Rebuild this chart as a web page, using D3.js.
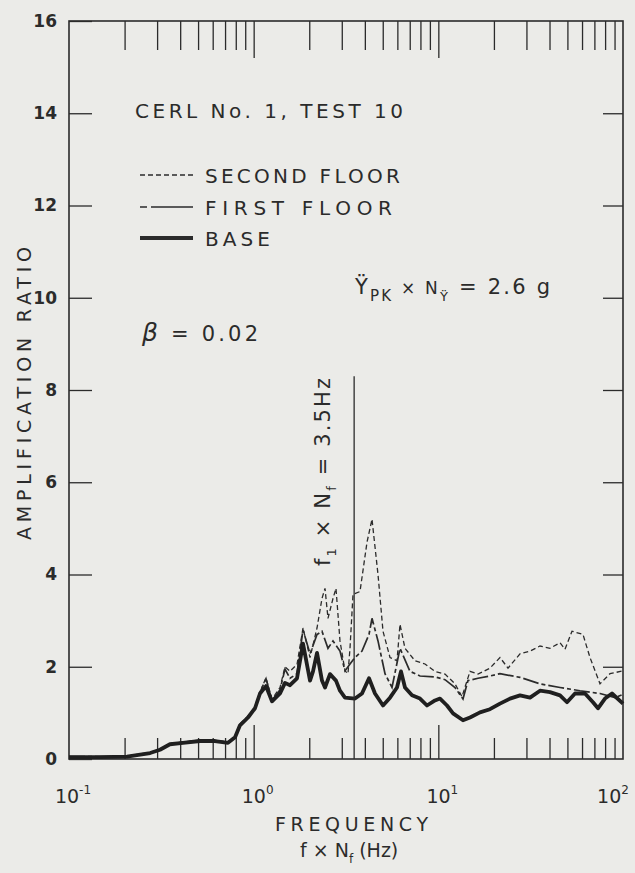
<!DOCTYPE html>
<html>
<head>
<meta charset="utf-8">
<script src="https://cdn.jsdelivr.net/npm/d3@7"></script>
<style>
  body { margin: 0; background: #ebebe8; }
  svg { display: block; }
  text { font-family: "DejaVu Sans", sans-serif; fill: #2b2b2b; }
</style>
</head>
<body>
<div id="chart"></div>
<script>
// axis ticks
const yTicks = [0, 2, 4, 6, 8, 10, 12, 14, 16];
const xDecades = [0.1, 1, 10, 100];
const xDecadeExp = ["-1", "0", "1", "2"];

// [frequency Hz, amplification ratio]
const baseData = [
  [0.1, 0.04], [0.147, 0.04], [0.206, 0.05], [0.275, 0.13], [0.311, 0.2], [0.352, 0.32],
  [0.414, 0.35], [0.512, 0.39], [0.617, 0.39], [0.726, 0.35], [0.793, 0.47], [0.843, 0.73],
  [0.932, 0.9], [1.017, 1.1], [1.082, 1.42], [1.166, 1.58], [1.257, 1.25], [1.389, 1.42],
  [1.478, 1.65], [1.573, 1.6], [1.717, 1.75], [1.85, 2.5], [2.019, 1.7], [2.096, 1.9],
  [2.203, 2.3], [2.344, 1.7], [2.434, 1.55], [2.59, 1.84], [2.791, 1.7], [2.934, 1.48],
  [3.123, 1.33], [3.538, 1.31], [3.86, 1.42], [4.213, 1.75], [4.539, 1.42], [5.016, 1.16],
  [5.474, 1.33], [5.973, 1.55], [6.278, 1.9], [6.598, 1.55], [7.201, 1.38], [7.956, 1.31],
  [8.682, 1.16], [9.592, 1.27], [10.21, 1.31], [11.14, 1.16], [12.01, 0.99], [13.6, 0.84],
  [14.84, 0.9], [16.81, 1.01], [19.04, 1.08], [21.57, 1.2], [24.44, 1.31], [27.69, 1.38],
  [31.37, 1.33], [35.53, 1.48], [40.24, 1.45], [45.6, 1.38], [49.75, 1.23], [54.96, 1.42],
  [62.26, 1.42], [68.78, 1.23], [73.21, 1.1], [79.88, 1.31], [87.19, 1.42], [100, 1.2]
];

const firstFloorData = [
  [0.1, 0.05], [0.147, 0.05], [0.206, 0.06], [0.275, 0.14], [0.311, 0.21], [0.352, 0.33],
  [0.414, 0.36], [0.512, 0.4], [0.617, 0.4], [0.726, 0.36], [0.793, 0.48], [0.843, 0.75],
  [0.932, 0.92], [1.017, 1.12], [1.082, 1.45], [1.166, 1.74], [1.257, 1.27], [1.389, 1.5],
  [1.478, 1.95], [1.573, 1.75], [1.717, 1.85], [1.85, 2.8], [2.019, 2.28], [2.203, 2.7],
  [2.344, 2.77], [2.526, 2.4], [2.689, 2.56], [2.934, 2.34], [3.123, 1.91], [3.324, 2.06],
  [3.538, 2.2], [3.86, 2.34], [4.213, 2.7], [4.373, 3.05], [4.713, 2.56], [5.143, 1.85],
  [5.612, 1.55], [6.2, 2.4], [7.024, 1.9], [7.956, 1.8], [9.592, 1.78], [10.87, 1.72],
  [12.31, 1.55], [13.6, 1.3], [14.47, 1.7], [16.4, 1.75], [19.04, 1.8], [21.57, 1.85],
  [27.69, 1.77], [35.53, 1.63], [45.6, 1.55], [58.49, 1.48], [75.07, 1.42], [90.52, 1.33],
  [100, 1.4]
];

const secondFloorData = [
  [0.1, 0.05], [0.147, 0.05], [0.206, 0.06], [0.275, 0.14], [0.311, 0.21], [0.352, 0.33],
  [0.414, 0.37], [0.512, 0.41], [0.617, 0.41], [0.726, 0.37], [0.793, 0.49], [0.843, 0.76],
  [0.932, 0.93], [1.017, 1.12], [1.082, 1.45], [1.166, 1.76], [1.257, 1.3], [1.389, 1.55],
  [1.478, 2.0], [1.573, 1.9], [1.717, 2.05], [1.85, 2.84], [2.019, 2.2], [2.203, 2.84],
  [2.344, 3.48], [2.434, 3.7], [2.526, 3.05], [2.689, 3.48], [2.791, 3.7], [2.934, 2.56],
  [3.123, 1.91], [3.242, 1.85], [3.324, 2.4], [3.451, 3.57], [3.765, 3.63], [4.109, 4.7],
  [4.373, 5.2], [4.713, 4.0], [5.016, 2.77], [5.474, 2.2], [5.973, 2.13], [6.2, 2.92],
  [6.598, 2.4], [7.475, 2.13], [8.468, 2.06], [9.592, 1.9], [10.87, 1.84], [12.31, 1.63],
  [13.43, 1.35], [14.84, 1.9], [16.4, 1.84], [19.04, 1.97], [21.57, 2.2], [23.84, 1.97],
  [27.69, 2.28], [31.37, 2.34], [35.53, 2.45], [40.24, 2.4], [45.6, 2.52], [48.52, 2.38],
  [52.94, 2.77], [60.72, 2.7], [66.27, 2.2], [75.07, 1.63], [85.04, 1.85], [100, 1.91]
];

const fundamentalHz = 3.5;
const fundamentalTop = 8.3;

const ink = "#2b2b2b";
const width = 635, height = 873;
const plot = { left: 69, right: 623, top: 21, bottom: 759 };

const svg = d3.select("#chart").append("svg")
  .attr("width", width)
  .attr("height", height);

const x = d3.scaleLog().domain([0.1, 100]).range([plot.left, plot.right]);
const y = d3.scaleLinear().domain([0, 16]).range([plot.bottom, plot.top]);

// minor ticks 2..9 in each decade, majors at inner decades
const minorTicks = [];
xDecades.slice(0, -1).forEach(d => { for (let k = 2; k <= 9; k++) minorTicks.push(k * d); });
const majorTicks = xDecades.slice(1, -1);

function styleAxis(g) {
  g.select(".domain").remove();
  g.selectAll(".tick line").attr("stroke", ink).attr("stroke-width", 1.3);
}

// bottom ticks
svg.append("g").attr("transform", `translate(0,${plot.bottom})`)
  .call(d3.axisBottom(x).tickValues(minorTicks).tickSize(-21).tickFormat(""))
  .call(styleAxis);
svg.append("g").attr("transform", `translate(0,${plot.bottom})`)
  .call(d3.axisBottom(x).tickValues(majorTicks).tickSize(-34).tickFormat(""))
  .call(styleAxis);

// top ticks
svg.append("g").attr("transform", `translate(0,${plot.top})`)
  .call(d3.axisTop(x).tickValues(minorTicks).tickSize(-29).tickFormat(""))
  .call(styleAxis);
svg.append("g").attr("transform", `translate(0,${plot.top})`)
  .call(d3.axisTop(x).tickValues(majorTicks).tickSize(-37).tickFormat(""))
  .call(styleAxis);

// left axis with labels
const leftAxis = svg.append("g").attr("transform", `translate(${plot.left},0)`)
  .call(d3.axisLeft(y).tickValues(yTicks).tickSize(-23).tickPadding(12).tickFormat(d3.format("d")))
  .call(styleAxis);
leftAxis.selectAll(".tick text")
  .attr("fill", ink)
  .style("font-family", "'DejaVu Sans', sans-serif")
  .style("font-size", "17px")
  .style("font-weight", "bold");

// right axis ticks
svg.append("g").attr("transform", `translate(${plot.right},0)`)
  .call(d3.axisRight(y).tickValues(yTicks.slice(1, -1)).tickSize(-20).tickFormat(""))
  .call(styleAxis);

// frame
svg.append("rect")
  .attr("x", plot.left).attr("y", plot.top)
  .attr("width", plot.right - plot.left).attr("height", plot.bottom - plot.top)
  .attr("fill", "none").attr("stroke", ink).attr("stroke-width", 1.6);

// decade labels 10^n
xDecades.forEach((d, i) => {
  const t = svg.append("text")
    .attr("x", x(d) + (i === xDecades.length - 1 ? -10 : 4))
    .attr("y", 803)
    .attr("text-anchor", "middle")
    .style("font-size", "19px");
  t.append("tspan").text("10");
  t.append("tspan").attr("dy", -9).style("font-size", "12px").text(xDecadeExp[i]);
});

// curves
const line = d3.line().x(d => x(d[0])).y(d => y(d[1]));

svg.append("path").datum(secondFloorData)
  .attr("fill", "none").attr("stroke", ink).attr("stroke-width", 1.3)
  .attr("stroke-dasharray", "5,3").attr("d", line);

svg.append("path").datum(firstFloorData)
  .attr("fill", "none").attr("stroke", ink).attr("stroke-width", 1.7)
  .attr("stroke-dasharray", "16,3,4,3").attr("d", line);

svg.append("path").datum(baseData)
  .attr("fill", "none").attr("stroke", "#1f1f1f").attr("stroke-width", 3.8)
  .attr("stroke-linejoin", "round").attr("d", line);

// fundamental frequency marker
svg.append("line")
  .attr("x1", x(fundamentalHz)).attr("x2", x(fundamentalHz))
  .attr("y1", y(fundamentalTop)).attr("y2", y(0))
  .attr("stroke", ink).attr("stroke-width", 1.3);

const fLabel = svg.append("text")
  .attr("transform", "translate(330,472) rotate(-90)")
  .attr("text-anchor", "middle")
  .attr("textLength", 188).attr("lengthAdjust", "spacing")
  .style("font-size", "21px");
fLabel.append("tspan").text("f");
fLabel.append("tspan").attr("dy", 6).style("font-size", "13px").text("1");
fLabel.append("tspan").attr("dy", -6).text(" × N");
fLabel.append("tspan").attr("dy", 6).style("font-size", "13px").text("f");
fLabel.append("tspan").attr("dy", -6).text(" = 3.5Hz");

// title and legend
svg.append("text").attr("x", 135).attr("y", 118)
  .attr("textLength", 268).attr("lengthAdjust", "spacing")
  .style("font-size", "20px").text("CERL No. 1, TEST 10");

const legendItems = [
  { label: "SECOND FLOOR", y: 175, dash: "5,3", w: 1.3, len: 195 },
  { label: "FIRST FLOOR", y: 207, dash: "7,4,40,0", w: 1.7, len: 187 },
  { label: "BASE", y: 238, dash: null, w: 3.8, len: 65 }
];
legendItems.forEach(item => {
  svg.append("line")
    .attr("x1", 140).attr("x2", 193).attr("y1", item.y).attr("y2", item.y)
    .attr("stroke", ink).attr("stroke-width", item.w)
    .attr("stroke-dasharray", item.dash);
  svg.append("text").attr("x", 205).attr("y", item.y + 8)
    .attr("textLength", item.len).attr("lengthAdjust", "spacing")
    .style("font-size", "20px").text(item.label);
});

// peak input acceleration note
const accel = svg.append("text").attr("x", 355).attr("y", 294)
  .attr("textLength", 195).attr("lengthAdjust", "spacing")
  .style("font-size", "21px");
accel.append("tspan").text("Ÿ");
accel.append("tspan").attr("dy", 7).style("font-size", "15px").text("PK");
accel.append("tspan").attr("dy", -7).style("font-size", "17px").text(" × N");
accel.append("tspan").attr("dy", 7).style("font-size", "13px").text("Ÿ");
accel.append("tspan").attr("dy", -7).text(" = 2.6 g");

// damping
const beta = svg.append("text").attr("x", 142).attr("y", 341)
  .attr("textLength", 116).attr("lengthAdjust", "spacing")
  .style("font-size", "21px");
beta.append("tspan").style("font-style", "italic").style("font-size", "25px").text("β");
beta.append("tspan").text(" = 0.02");

// axis titles
svg.append("text")
  .attr("transform", "translate(31,540) rotate(-90)")
  .attr("textLength", 293).attr("lengthAdjust", "spacing")
  .style("font-size", "19px").text("AMPLIFICATION RATIO");

svg.append("text").attr("x", 275).attr("y", 831)
  .attr("textLength", 153).attr("lengthAdjust", "spacing")
  .style("font-size", "19px").text("FREQUENCY");

const fx = svg.append("text").attr("x", 300).attr("y", 857).style("font-size", "19px");
fx.append("tspan").text("f × N");
fx.append("tspan").attr("dy", 6).style("font-size", "12px").text("f");
fx.append("tspan").attr("dy", -6).text(" (Hz)");
</script>
</body>
</html>
